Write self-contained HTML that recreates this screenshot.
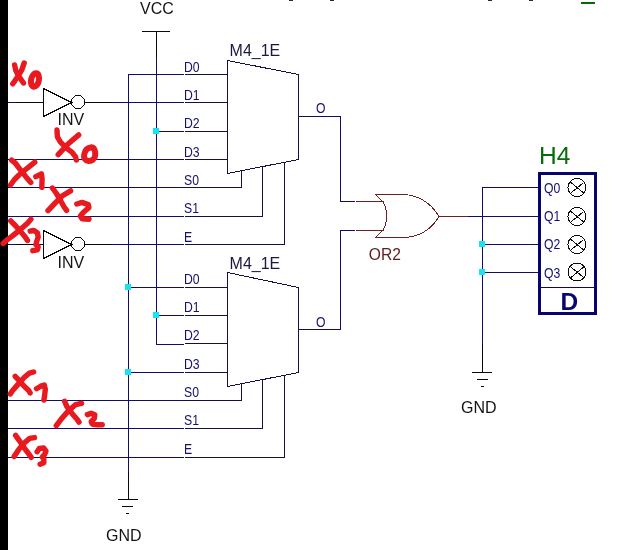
<!DOCTYPE html>
<html><head><meta charset="utf-8"><style>
html,body{margin:0;padding:0;background:#fff;width:621px;height:550px;overflow:hidden}
svg{display:block;will-change:transform}
text{font-family:"Liberation Sans",sans-serif}
.w{stroke:#0f0c6c;stroke-width:1;fill:none}
.k{stroke:#0a0a0a;stroke-width:1;fill:none}
.p{stroke:#141040;stroke-width:1;fill:none}
.m{stroke:#6a2020;stroke-width:1;fill:none}
.r{stroke:#e8191f;stroke-width:5.4;fill:none;stroke-linecap:round;stroke-linejoin:round}
.lbl{font-size:13px;fill:#14116a}
.big{font-size:16px;fill:#141414}
.dot{fill:#14e6ef}
</style></head><body>
<svg width="621" height="550" viewBox="0 0 621 550">
<rect x="0" y="0" width="621" height="550" fill="#fff"/>

<!-- top marks -->
<rect x="289" y="0" width="4" height="1" fill="#183418"/>
<rect x="330" y="0" width="4" height="1" fill="#183418"/>
<rect x="488" y="0" width="4" height="1" fill="#183418"/>
<rect x="529" y="0" width="4" height="1" fill="#183418"/>
<rect x="581" y="2" width="14" height="2" fill="#046a04"/>

<g shape-rendering="crispEdges">
<!-- VCC symbol + bus -->
<path class="k" d="M142 31.5H170M156.5 31V58"/>
<path class="w" d="M156.5 58V344H184"/>
<!-- left GND bus -->
<path class="w" d="M128.5 74V472"/>
<path class="k" d="M128.5 472V500M118 499.5H138M122 506.5H133M126 513.5H129"/>

<!-- MUX1 wires -->
<path class="w" d="M128 74.5H184"/>
<path class="k" d="M84 102.5H112"/>
<path class="w" d="M112 102.5H184"/>
<path class="w" d="M156 131.5H184"/>
<path class="w" d="M8 159.5H184"/>
<path class="w" d="M8 187.5H185"/>
<path class="w" d="M8 216.5H184"/>
<path class="k" d="M84 244.5H112"/>
<path class="w" d="M112 244.5H184"/>
<path class="w" d="M8 102.5H16M8 244.5H16"/>
<path class="k" d="M16 102.5H43M16 244.5H43"/>
<!-- pin stubs mux1 -->
<path class="p" d="M185 74.5H227M185 102.5H227M185 131.5H227M185 159.5H227"/>
<path class="p" d="M185 187.5H241.5V170M185 216.5H262.5V166M185 244.5H284.5V162"/>
<!-- mux1 output -->
<path class="p" d="M299 116.5H318"/>
<path class="w" d="M318 116.5H340.5V201.5H355"/>

<!-- MUX2 wires -->
<path class="w" d="M128 287.5H184"/>
<path class="w" d="M156 315.5H184"/>
<path class="w" d="M128 372.5H184"/>
<path class="w" d="M8 400.5H185"/>
<path class="w" d="M8 428.5H184"/>
<path class="w" d="M8 457.5H184"/>
<path class="p" d="M185 287.5H227M185 315.5H227M185 343.5H227M185 372.5H227"/>
<path class="p" d="M185 400.5H241.5V383M185 428.5H262.5V379M185 457.5H284.5V375"/>
<path class="p" d="M299 329.5H318"/>
<path class="w" d="M318 329.5H340.5V230.5H355"/>

<!-- OR inputs / output -->
<path class="m" d="M356 201.5H384M356 230.5H384"/>
<path class="m" d="M439 216.5H468"/>
<path class="w" d="M468 216.5H538"/>
<!-- H4 bus -->
<path class="w" d="M538 187.5H482.5V344"/>
<path class="k" d="M482.5 344V373M472 372.5H492M477 379.5H488M481 386.5H484"/>
<path class="w" d="M482 244.5H538M482 272.5H538"/>

<!-- MUX bodies -->
<path class="p" d="M227.5 60.5L298.5 74.5V159.5L227.5 173.5Z"/>
<path class="p" d="M227.5 272.5L298.5 287.5V372.5L227.5 386.5Z"/>
</g>

<!-- dots -->
<rect class="dot" x="153" y="128" width="6" height="6"/>
<rect class="dot" x="125" y="284" width="6" height="6"/>
<rect class="dot" x="153" y="312" width="6" height="6"/>
<rect class="dot" x="125" y="369" width="6" height="6"/>
<rect class="dot" x="479" y="241" width="6" height="6"/>
<rect class="dot" x="479" y="269" width="6" height="6"/>

<!-- inverters -->
<g fill="none" stroke="#0a0a0a" stroke-width="1" shape-rendering="crispEdges">
<path d="M43.5 88.5L71.5 102.5L43.5 116.5Z"/>
<circle cx="78" cy="102" r="6.6"/>
<path d="M43.5 230.5L71.5 244.5L43.5 258.5Z"/>
<circle cx="78" cy="244" r="6.6"/>
</g>

<!-- OR gate -->
<path d="M375.5 194.5H403C418 195 431 203 439 216.5C431 230 418 237 403 237.5H375.5L383 230C388 222 388 210 383 202Z" fill="none" stroke="#6a2020" stroke-width="1" shape-rendering="crispEdges"/>

<!-- H4 -->
<rect x="539.5" y="173.5" width="56" height="140" fill="none" stroke="#08046e" stroke-width="3"/>
<path d="M541 287.5H594" stroke="#0c0860" stroke-width="1" shape-rendering="crispEdges"/>
<g fill="none" stroke="#0a0a0a" stroke-width="1" shape-rendering="crispEdges">
<path d="M586.00 187.50L585.56 190.28L584.28 192.79L582.29 194.78L579.78 196.06L577.00 196.50L574.22 196.06L571.71 194.78L569.72 192.79L568.44 190.28L568.00 187.50L568.44 184.72L569.72 182.21L571.71 180.22L574.22 178.94L577.00 178.50L579.78 178.94L582.29 180.22L584.28 182.21L585.56 184.72Z"/>
<path d="M570.5 182.2L583.5 192.8M583.5 182.7L570.5 193.3"/>
<path d="M586.00 216.50L585.56 219.28L584.28 221.79L582.29 223.78L579.78 225.06L577.00 225.50L574.22 225.06L571.71 223.78L569.72 221.79L568.44 219.28L568.00 216.50L568.44 213.72L569.72 211.21L571.71 209.22L574.22 207.94L577.00 207.50L579.78 207.94L582.29 209.22L584.28 211.21L585.56 213.72Z"/>
<path d="M570.5 211.2L583.5 221.8M583.5 211.7L570.5 222.3"/>
<path d="M586.00 244.50L585.56 247.28L584.28 249.79L582.29 251.78L579.78 253.06L577.00 253.50L574.22 253.06L571.71 251.78L569.72 249.79L568.44 247.28L568.00 244.50L568.44 241.72L569.72 239.21L571.71 237.22L574.22 235.94L577.00 235.50L579.78 235.94L582.29 237.22L584.28 239.21L585.56 241.72Z"/>
<path d="M570.5 239.2L583.5 249.8M583.5 239.7L570.5 250.3"/>
<path d="M586.00 272.00L585.56 274.78L584.28 277.29L582.29 279.28L579.78 280.56L577.00 281.00L574.22 280.56L571.71 279.28L569.72 277.29L568.44 274.78L568.00 272.00L568.44 269.22L569.72 266.71L571.71 264.72L574.22 263.44L577.00 263.00L579.78 263.44L582.29 264.72L584.28 266.71L585.56 269.22Z"/>
<path d="M570.5 266.7L583.5 277.3M583.5 267.2L570.5 277.8"/>
</g>

<!-- texts -->
<text class="big" x="140" y="14">VCC</text>
<text class="big" x="229.6" y="56" style="fill:#1a1840">M4_1E</text>
<text class="big" x="229.6" y="269" style="fill:#1a1840">M4_1E</text>
<text class="big" x="57.5" y="124.5">INV</text>
<text class="big" x="57.5" y="267.5">INV</text>
<text class="big" x="461" y="413">GND</text>
<text class="big" x="106" y="541">GND</text>

<g class="lbl">
<text transform="matrix(0.94 0 0 1.1 184 72)">D0</text>
<text transform="matrix(0.94 0 0 1.1 184 100)">D1</text>
<text transform="matrix(0.94 0 0 1.1 184 128)">D2</text>
<text transform="matrix(0.94 0 0 1.1 184 157)">D3</text>
<text transform="matrix(0.94 0 0 1.1 184 185)">S0</text>
<text transform="matrix(0.94 0 0 1.1 184 213)">S1</text>
<text transform="matrix(0.94 0 0 1.1 184 242)">E</text>
<text transform="matrix(0.94 0 0 1.1 316 113)">O</text>
<text transform="matrix(0.94 0 0 1.1 184 284)">D0</text>
<text transform="matrix(0.94 0 0 1.1 184 312)">D1</text>
<text transform="matrix(0.94 0 0 1.1 184 340)">D2</text>
<text transform="matrix(0.94 0 0 1.1 184 369)">D3</text>
<text transform="matrix(0.94 0 0 1.1 184 397)">S0</text>
<text transform="matrix(0.94 0 0 1.1 184 425)">S1</text>
<text transform="matrix(0.94 0 0 1.1 184 454)">E</text>
<text transform="matrix(0.94 0 0 1.1 316 327)">O</text>
<text transform="matrix(0.94 0 0 1.1 544 193)">Q0</text>
<text transform="matrix(0.94 0 0 1.1 544 221)">Q1</text>
<text transform="matrix(0.94 0 0 1.1 544 249)">Q2</text>
<text transform="matrix(0.94 0 0 1.1 544 278)">Q3</text>
</g>
<text x="368.8" y="260" font-size="15.6" fill="#5e1c1c">OR2</text>
<text x="539" y="164" font-size="24.5" fill="#096c09">H4</text>
<text x="560.5" y="310" font-size="24.5" font-weight="bold" fill="#0a0670">D</text>

<!-- black bar -->
<rect x="0" y="0" width="8" height="550" fill="#000"/>

<!-- red handwriting -->
<g class="r">
<!-- X0 top -->
<path d="M14.6 65L15.8 70.5L19.1 76.7L23.5 83"/>
<path d="M24.2 63L21.8 69.8L17.7 76.7L12.8 83.8"/>
<ellipse cx="35" cy="80" rx="3.9" ry="6.9" transform="rotate(12 35 80)" stroke-width="6"/>
<!-- X0 second -->
<path d="M57 129.9L57.4 136.8L60.5 142.2L65.9 147.6L72.1 152.3L75.6 156.9L76.3 160"/>
<path d="M78.7 134.9L68 144L58.2 154.6"/>
<path d="M90.5 147.4C94.5 147 95.6 151.5 95.2 155.5C94.8 159.5 91.5 161.2 88.5 160.9C85 160.5 83.5 158 84.2 154.5C84.9 151 87 147.8 90.5 147.4Z" stroke-width="6"/>
<!-- X1 -->
<path d="M11.6 160.2L15.2 163L20.2 169.6L25.8 176.7L30.8 182.5"/>
<path d="M34.8 162.2L30.5 165.6L25 170L19 175L14.5 179.5L10.5 185"/>
<path d="M35.8 176.7L41.4 173.8L42.1 178.8L41.8 187.3"/>
<!-- X2 -->
<path d="M52.4 188L56.1 193L60.1 199.7L64.1 207L66.6 210.4"/>
<path d="M70.6 190.9L62.5 195.7L55.3 202.9L48 210.6"/>
<path d="M76.8 204L82 202.4L88.3 204.6L88.9 207.6L83.5 212.2L80.4 216L82 218.7L89 219.3"/>
<!-- X3 -->
<path d="M10.7 220.9L15.3 225.5L20.6 231.6L25.2 236.9L27.5 240.4"/>
<path d="M30.9 219.3L27.5 223.2L20.6 229.3L12.2 236.2L6.1 240.7L3.1 243.4"/>
<path d="M30.2 231.2L33.6 230.4L37.4 232.7L38.2 236.9L36.7 241.5L35.9 244.6L38.2 246.8L37.4 249.9L32.8 250.7"/>
<!-- X1 b -->
<path d="M15.2 376.3L18.8 380.2L23.7 385.8L28.7 390.5L30.1 392.9"/>
<path d="M33.6 372L29.4 373.1L24.4 377.3L18 384.4L12.4 390.8L10.3 394"/>
<path d="M36.5 388.7L40.7 386.2L44.3 385.1L45.3 389.4L44.6 395.8L43.9 400"/>
<!-- X2 b -->
<path d="M64.6 401.2L66.8 406.4L72 413.4L77.2 419.5L79 422.1"/>
<path d="M81.6 403.4L75.5 404.7L68.5 410.8L61.6 418.6L56.3 425.6"/>
<path d="M87.4 414.6L91.1 413.2L94.8 414.8L94.4 418.3L91.2 421.6L92.2 424L97.2 424.8L102.2 424.8"/>
<!-- X3 b -->
<path d="M15.6 435.4L19.3 440.6L23.8 447.3L28.2 453.2L31.2 457.3"/>
<path d="M34.5 437.6L29.7 438.4L24.5 442.8L19.3 448.7L14.1 456.5"/>
<path d="M37.1 451.7L39.3 448.4L43.8 448L46 451L44.5 454.7L42.3 456.9L43.8 459.1L43.8 462.8L40.1 464.3"/>
</g>
</svg>
</body></html>
